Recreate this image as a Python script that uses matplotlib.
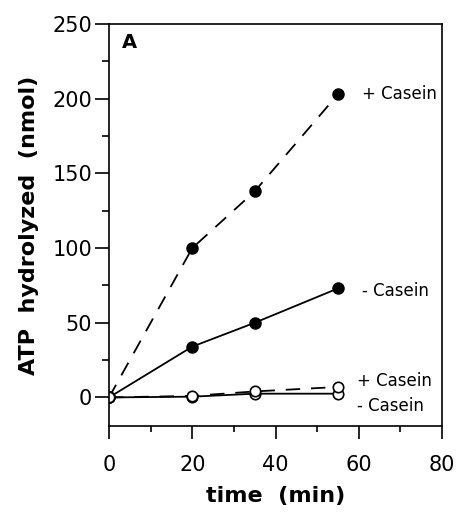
import matplotlib
matplotlib.use("Agg")
import matplotlib.pyplot as plt
from matplotlib.ticker import MultipleLocator

# data (time in min, ATP hydrolyzed in nmol)
time = [0, 20, 35, 55]
filled_plus = [0, 100, 138, 203]
filled_minus = [0, 34, 50, 73]
open_plus = [0, 1, 4, 7]
open_minus = [0, 0.5, 2.5, 2.5]

labels = ["+ Casein", "- Casein", "+ Casein", "- Casein"]
label_pos = [(60.8, 203), (60.8, 71), (59.6, 10.7), (59.6, -6)]

fig = plt.figure(figsize=(4.59, 5.13), dpi=100)
ax = fig.add_axes([0.2375, 0.170, 0.7255, 0.783])

lw = 1.3
dash = (8, 6)
ax.plot(time, filled_plus, color="black", lw=lw, dashes=dash,
        marker="o", ms=8, mfc="black", mec="black")
ax.plot(time, filled_minus, color="black", lw=lw,
        marker="o", ms=8, mfc="black", mec="black")
ax.plot(time, open_minus, color="black", lw=lw,
        marker="o", ms=7.5, mfc="white", mec="black", mew=1.2)
ax.plot(time, open_plus, color="black", lw=lw, dashes=dash,
        marker="o", ms=7.5, mfc="white", mec="black", mew=1.2)

for txt, (x, y) in zip(labels, label_pos):
    ax.text(x, y, txt, fontsize=12, ha="left", va="center")

ax.text(0.04, 0.955, "A", transform=ax.transAxes, fontsize=14,
        fontweight="bold", ha="left", va="center")

ax.set_xlim(0, 80)
ax.set_ylim(-19, 250)
ax.xaxis.set_major_locator(MultipleLocator(20))
ax.xaxis.set_minor_locator(MultipleLocator(10))
ax.yaxis.set_major_locator(MultipleLocator(50))
ax.yaxis.set_minor_locator(MultipleLocator(25))

ax.tick_params(axis="x", which="major", direction="out", length=9, width=1.2,
               pad=12, labelsize=15)
ax.tick_params(axis="x", which="minor", direction="out", length=4, width=1.2)
ax.tick_params(axis="y", which="major", direction="out", length=10, width=1.2,
               pad=2, labelsize=15)
ax.tick_params(axis="y", which="minor", direction="out", length=5, width=1.2)

for sp in ax.spines.values():
    sp.set_linewidth(1.2)

ax.set_xlabel("time  (min)", fontsize=16, fontweight="bold", labelpad=8)
ax.set_ylabel("ATP  hydrolyzed  (nmol)", fontsize=16, fontweight="bold",
              labelpad=10)

fig.savefig("out.png", dpi=100)
